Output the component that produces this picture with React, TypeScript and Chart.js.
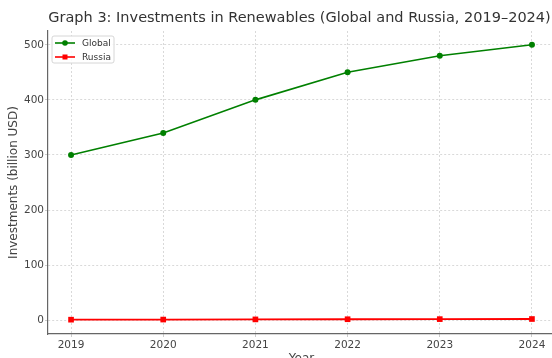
import React, { useEffect, useRef } from "react";
import { Chart, registerables } from "chart.js";

Chart.register(...registerables);

const years = [2019, 2020, 2021, 2022, 2023, 2024];
const globalValues = [300, 340, 400, 450, 480, 500];
const russiaValues = [1.0, 1.2, 1.5, 1.8, 2.0, 2.2];
const yTicks = [0, 100, 200, 300, 400, 500];
const titleText = "Graph 3: Investments in Renewables (Global and Russia, 2019–2024)";
const xTitle = "Year";
const yTitle = "Investments (billion USD)";

const FONT = "'DejaVu Sans', sans-serif";

const titlePlugin = {
  id: "customTitle",
  afterDraw(chart: any) {
    const { ctx, chartArea } = chart;
    ctx.save();
    ctx.font = `14.5px ${FONT}`;
    ctx.fillStyle = "#333333";
    ctx.textAlign = "center";
    ctx.textBaseline = "middle";
    ctx.fillText(titleText, (chartArea.left + chartArea.right) / 2 - 2, 18);
    ctx.restore();
  },
};

const legendPlugin = {
  id: "customLegend",
  afterDatasetsDraw(chart: any) {
    const { ctx, chartArea } = chart;
    const x0 = chartArea.left + 4;
    const y0 = chartArea.top + 5;
    const w = 62;
    const h = 27;
    ctx.save();
    ctx.beginPath();
    if (ctx.roundRect) ctx.roundRect(x0, y0, w, h, 2);
    else ctx.rect(x0, y0, w, h);
    ctx.fillStyle = "rgba(255,255,255,0.85)";
    ctx.fill();
    ctx.strokeStyle = "#d6d6d6";
    ctx.lineWidth = 1;
    ctx.stroke();
    const items = chart.data.datasets.map((d: any) => ({
      label: d.label,
      color: d.borderColor,
      style: d.pointStyle,
    }));
    items.forEach((it: any, i: number) => {
      const cy = y0 + 7 + i * 14;
      const lx = x0 + 3;
      ctx.strokeStyle = it.color;
      ctx.lineWidth = 1.6;
      ctx.beginPath();
      ctx.moveTo(lx, cy);
      ctx.lineTo(lx + 20, cy);
      ctx.stroke();
      ctx.fillStyle = it.color;
      ctx.beginPath();
      if (it.style === "rect") {
        ctx.rect(lx + 10 - 2.5, cy - 2.5, 5, 5);
      } else {
        ctx.arc(lx + 10, cy, 2.8, 0, Math.PI * 2);
      }
      ctx.fill();
      ctx.fillStyle = "#333333";
      ctx.font = `9px ${FONT}`;
      ctx.textAlign = "left";
      ctx.textBaseline = "middle";
      ctx.fillText(it.label, lx + 27, cy + 0.5);
    });
    ctx.restore();
  },
};

export default function App() {
  const ref = useRef<HTMLCanvasElement | null>(null);
  useEffect(() => {
    if (!ref.current) return;
    const chart = new Chart(ref.current, {
      type: "line",
      data: {
        datasets: [
          {
            label: "Global",
            data: years.map((y, i) => ({ x: y, y: globalValues[i] })),
            borderColor: "green",
            backgroundColor: "green",
            borderWidth: 1.6,
            pointRadius: 3,
            pointStyle: "circle",
            pointBorderWidth: 0,
            tension: 0,
          },
          {
            label: "Russia",
            data: years.map((y, i) => ({ x: y, y: russiaValues[i] })),
            borderColor: "red",
            backgroundColor: "red",
            borderWidth: 1.8,
            pointRadius: 4,
            pointStyle: "rect",
            pointBorderWidth: 0,
            tension: 0,
          },
        ],
      },
      options: {
        animation: false,
        responsive: false,
        devicePixelRatio: 1,
        layout: { padding: { top: 31, right: 5, left: 0, bottom: 0 } },
        plugins: {
          legend: { display: false },
          title: { display: false },
          tooltip: { enabled: false },
        },
        scales: {
          x: {
            type: "linear",
            min: 2018.75,
            max: 2024.25,
            afterBuildTicks: (s: any) => {
              s.ticks = years.map((v) => ({ value: v }));
            },
            afterFit: (s: any) => {
              s.height = 36;
            },
            ticks: {
              font: { family: FONT, size: 10.5 },
              color: "#444444",
              padding: 2,
              callback: (v: any) => String(v),
            },
            grid: {
              color: "#d9d9d9",
              lineWidth: 1,
              tickLength: 3,
              tickColor: "#cccccc",
            },
            border: { display: true, color: "#666666", width: 1.2, dash: [2, 2] },
            title: {
              display: true,
              text: xTitle,
              font: { family: FONT, size: 12 },
              color: "#444444",
              padding: { top: 0, bottom: 3.5 },
            },
          },
          y: {
            type: "linear",
            min: -25,
            max: 525,
            afterBuildTicks: (s: any) => {
              s.ticks = yTicks.map((v) => ({ value: v }));
            },
            afterFit: (s: any) => {
              s.width = 48;
            },
            ticks: {
              font: { family: FONT, size: 10.5 },
              color: "#444444",
              padding: 1,
            },
            grid: {
              color: "#d9d9d9",
              lineWidth: 1,
              tickLength: 3,
              tickColor: "#cccccc",
            },
            border: { display: true, color: "#666666", width: 1.2, dash: [2, 2] },
            title: {
              display: true,
              text: yTitle,
              font: { family: FONT, size: 12 },
              color: "#444444",
              padding: { top: 6.8, bottom: 0 },
            },
          },
        },
      },
      plugins: [titlePlugin, legendPlugin],
    });
    return () => chart.destroy();
  }, []);
  return (
    <div
      style={{
        position: "fixed",
        left: 0,
        top: 0,
        width: 552,
        height: 358,
        overflow: "hidden",
        background: "#ffffff",
      }}
    >
      <canvas ref={ref} width={560} height={370} style={{ display: "block" }} />
    </div>
  );
}
